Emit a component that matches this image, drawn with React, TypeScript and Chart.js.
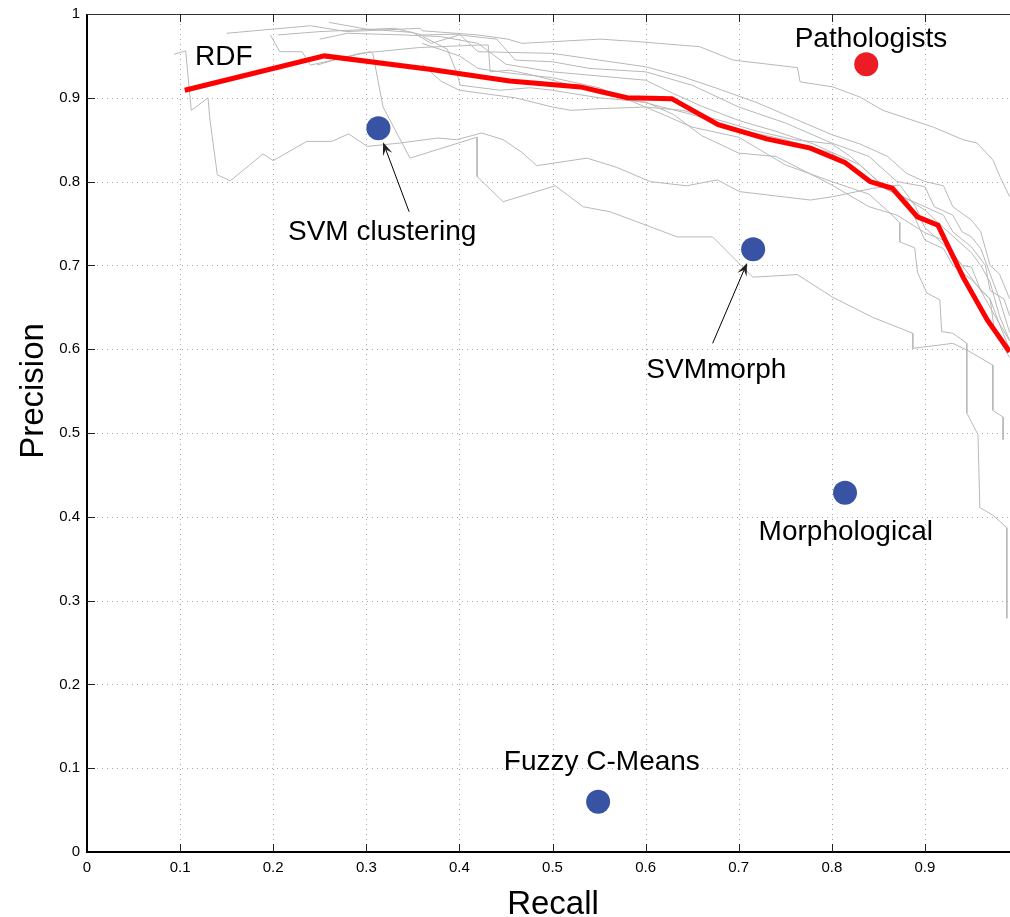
import React, { useEffect, useRef } from "react";
import { Chart, registerables } from "chart.js";

Chart.register(...registerables);

const FONT = '"Liberation Sans", Arial, Helvetica, sans-serif';

// ---------- axes ----------
const xTickValues = [0, 0.1, 0.2, 0.3, 0.4, 0.5, 0.6, 0.7, 0.8, 0.9];
const xTickLabels = ["0", "0.1", "0.2", "0.3", "0.4", "0.5", "0.6", "0.7", "0.8", "0.9"];
const yTickValues = [0, 0.1, 0.2, 0.3, 0.4, 0.5, 0.6, 0.7, 0.8, 0.9, 1];
const yTickLabels = ["0", "0.1", "0.2", "0.3", "0.4", "0.5", "0.6", "0.7", "0.8", "0.9", "1"];
const xAxisTitle = "Recall";
const yAxisTitle = "Precision";
const xMin = 0;
const xMax = 0.9914;
const yMin = 0;
const yMax = 1;

// ---------- RDF curve [recall, precision] ----------
const rdfCurve: [number, number][] = [
  [0.105, 0.909], [0.255, 0.95], [0.368, 0.934], [0.454, 0.92], [0.53, 0.913],
  [0.58, 0.9], [0.628, 0.899], [0.678, 0.868], [0.73, 0.851], [0.777, 0.84],
  [0.814, 0.823], [0.841, 0.8], [0.865, 0.792], [0.892, 0.758], [0.914, 0.748],
  [0.941, 0.686], [0.967, 0.635], [0.991, 0.597],
];

// ---------- individual (gray) curves ----------
const grayCurve1: [number, number][] = [
  [0.15, 0.977], [0.24, 0.986], [0.279, 0.979], [0.358, 0.983], [0.36, 0.98], [0.42, 0.975],
  [0.452, 0.97], [0.467, 0.965], [0.551, 0.97], [0.592, 0.967], [0.658, 0.961], [0.694, 0.945],
  [0.763, 0.936], [0.766, 0.919], [0.801, 0.913], [0.83, 0.901], [0.855, 0.885], [0.909, 0.865],
  [0.941, 0.85], [0.956, 0.846], [0.973, 0.826], [0.981, 0.805], [0.991, 0.782],
];
const grayCurve2: [number, number][] = [
  [0.0935, 0.952], [0.106, 0.956], [0.112, 0.885], [0.13, 0.9], [0.132, 0.874], [0.14, 0.808],
  [0.154, 0.801], [0.189, 0.833], [0.2, 0.825], [0.236, 0.848], [0.263, 0.848], [0.281, 0.857],
  [0.301, 0.842], [0.336, 0.846], [0.377, 0.852], [0.397, 0.85], [0.424, 0.858], [0.447, 0.85],
  [0.467, 0.835], [0.483, 0.819], [0.537, 0.828], [0.569, 0.817], [0.605, 0.8], [0.644, 0.795],
  [0.677, 0.802], [0.701, 0.788], [0.777, 0.778], [0.801, 0.782], [0.844, 0.792], [0.873, 0.796],
  [0.89, 0.77], [0.9, 0.745], [0.92, 0.725], [0.94, 0.7], [0.96, 0.67], [0.975, 0.64], [0.991, 0.61],
];
const grayCurve3: [number, number][] = [
  [0.197, 0.975], [0.207, 0.955], [0.231, 0.955], [0.24, 0.939], [0.304, 0.955], [0.307, 0.953],
  [0.318, 0.889], [0.347, 0.828], [0.419, 0.853], [0.419, 0.806], [0.447, 0.776], [0.503, 0.795],
  [0.533, 0.77], [0.562, 0.764], [0.634, 0.734], [0.672, 0.734], [0.715, 0.686], [0.763, 0.689],
  [0.801, 0.662], [0.844, 0.638], [0.887, 0.619], [0.887, 0.601], [0.93, 0.607], [0.945, 0.599],
  [0.973, 0.581], [0.973, 0.527], [0.984, 0.519], [0.984, 0.492],
];
const grayCurve4: [number, number][] = [
  [0.205, 0.975], [0.25, 0.979], [0.33, 0.983], [0.36, 0.975], [0.4, 0.976], [0.42, 0.955],
  [0.5, 0.953], [0.55, 0.945], [0.6, 0.937], [0.64, 0.925], [0.68, 0.91], [0.72, 0.894],
  [0.76, 0.875], [0.8, 0.856], [0.83, 0.845], [0.86, 0.83], [0.88, 0.81], [0.9, 0.8],
  [0.92, 0.795], [0.93, 0.77], [0.95, 0.754], [0.96, 0.74], [0.97, 0.7], [0.98, 0.69], [0.991, 0.66],
];
const grayCurve5: [number, number][] = [
  [0.26, 0.99], [0.3, 0.982], [0.35, 0.978], [0.37, 0.965], [0.4, 0.975], [0.44, 0.97],
  [0.46, 0.945], [0.5, 0.943], [0.54, 0.935], [0.6, 0.931], [0.65, 0.915], [0.7, 0.889],
  [0.75, 0.87], [0.8, 0.846], [0.84, 0.83], [0.87, 0.8], [0.9, 0.794], [0.91, 0.77],
  [0.93, 0.76], [0.94, 0.74], [0.95, 0.734], [0.96, 0.72], [0.97, 0.69], [0.98, 0.66], [0.991, 0.62],
];
const grayCurve6: [number, number][] = [
  [0.25, 0.97], [0.28, 0.977], [0.34, 0.975], [0.38, 0.973], [0.42, 0.965], [0.45, 0.94],
  [0.5, 0.931], [0.56, 0.925], [0.6, 0.921], [0.63, 0.905], [0.66, 0.89], [0.7, 0.873],
  [0.74, 0.86], [0.78, 0.845], [0.8, 0.835], [0.83, 0.82], [0.86, 0.79], [0.9, 0.77],
  [0.92, 0.76], [0.93, 0.74], [0.95, 0.722], [0.965, 0.7], [0.97, 0.67], [0.985, 0.66], [0.991, 0.64],
];
const grayCurve7: [number, number][] = [
  [0.247, 0.939], [0.268, 0.946], [0.293, 0.953], [0.357, 0.96], [0.422, 0.963], [0.431, 0.963],
  [0.433, 0.931], [0.454, 0.933], [0.479, 0.927], [0.5, 0.921], [0.55, 0.905], [0.6, 0.894],
  [0.65, 0.88], [0.7, 0.862], [0.75, 0.85], [0.8, 0.834], [0.83, 0.81], [0.86, 0.79],
  [0.88, 0.78], [0.9, 0.766], [0.92, 0.745], [0.95, 0.715], [0.96, 0.7], [0.97, 0.68],
  [0.98, 0.64], [0.991, 0.61],
];
const grayCurve8: [number, number][] = [
  [0.36, 0.965], [0.4, 0.95], [0.42, 0.935], [0.45, 0.93], [0.5, 0.924], [0.55, 0.912],
  [0.6, 0.889], [0.65, 0.865], [0.7, 0.853], [0.75, 0.82], [0.8, 0.8], [0.84, 0.785],
  [0.86, 0.765], [0.873, 0.751], [0.873, 0.728], [0.889, 0.721], [0.892, 0.692], [0.902, 0.667],
  [0.916, 0.659], [0.918, 0.621], [0.93, 0.619], [0.945, 0.607], [0.945, 0.524], [0.957, 0.498],
  [0.959, 0.411], [0.973, 0.402], [0.988, 0.387], [0.988, 0.279],
];
const grayCurve9: [number, number][] = [
  [0.361, 0.973], [0.387, 0.958], [0.397, 0.93], [0.401, 0.915], [0.444, 0.909], [0.476, 0.912],
  [0.5, 0.909], [0.55, 0.9], [0.6, 0.895], [0.63, 0.88], [0.66, 0.855], [0.7, 0.834],
  [0.74, 0.83], [0.8, 0.796], [0.84, 0.77], [0.87, 0.76], [0.9, 0.739], [0.92, 0.73],
  [0.94, 0.7], [0.95, 0.698], [0.96, 0.67], [0.97, 0.66], [0.975, 0.62], [0.991, 0.59],
];
const grayCurve10: [number, number][] = [
  [0.36, 0.94], [0.38, 0.92], [0.4, 0.909], [0.46, 0.9], [0.5, 0.889], [0.52, 0.885],
  [0.55, 0.887], [0.6, 0.889], [0.64, 0.885], [0.68, 0.873], [0.72, 0.86], [0.76, 0.85],
  [0.8, 0.845], [0.82, 0.83], [0.85, 0.8], [0.88, 0.78], [0.9, 0.73], [0.92, 0.72],
  [0.93, 0.7], [0.95, 0.683], [0.97, 0.66], [0.98, 0.63], [0.991, 0.6],
];
const grayCurves = [
  grayCurve1, grayCurve2, grayCurve3, grayCurve4, grayCurve5,
  grayCurve6, grayCurve7, grayCurve8, grayCurve9, grayCurve10,
];

// ---------- other methods (single points) ----------
const methodNames = ["Pathologists", "SVM clustering", "SVMmorph", "Morphological", "Fuzzy C-Means"];
const methodRecall = [0.837, 0.313, 0.7155, 0.8142, 0.549];
const methodPrecision = [0.94, 0.8636, 0.7192, 0.4288, 0.06];
const methodColors = ["#ec1c24", "#3953a4", "#3953a4", "#3953a4", "#3953a4"];

// ---------- annotation layout (data coordinates) ----------
const rdfLabel = { text: "RDF", x: 0.147, y: 0.939 };
const methodLabelPos: [number, number][] = [
  [0.842, 0.961], [0.317, 0.73], [0.676, 0.566], [0.815, 0.372], [0.553, 0.098],
];
const arrows: { from: [number, number]; to: [number, number] }[] = [
  { from: [0.346, 0.764], to: [0.318, 0.847] },
  { from: [0.672, 0.607], to: [0.709, 0.703] },
];

const toPoints = (c: [number, number][]) => c.map(([x, y]) => ({ x, y }));

function drawArrow(ctx: CanvasRenderingContext2D, x1: number, y1: number, x2: number, y2: number) {
  const a = Math.atan2(y2 - y1, x2 - x1);
  const L = 13;
  const W = 5;
  const cx = Math.cos(a), sy = Math.sin(a);
  const nx = x2 - L * 0.6 * cx, ny = y2 - L * 0.6 * sy;
  ctx.save();
  ctx.strokeStyle = "#000";
  ctx.lineWidth = 1;
  ctx.beginPath();
  ctx.moveTo(x1, y1);
  ctx.lineTo(nx, ny);
  ctx.stroke();
  ctx.fillStyle = "#222";
  ctx.beginPath();
  ctx.moveTo(x2, y2);
  ctx.lineTo(x2 - L * cx - W * sy, y2 - L * sy + W * cx);
  ctx.lineTo(nx, ny);
  ctx.lineTo(x2 - L * cx + W * sy, y2 - L * sy - W * cx);
  ctx.closePath();
  ctx.fill();
  ctx.restore();
}

const overlayPlugin = {
  id: "overlay",
  beforeDatasetsDraw(chart: any) {
    const { ctx, chartArea: ca, scales } = chart;
    const xs = scales.x, ys = scales.y;
    ctx.save();
    ctx.strokeStyle = "#a8a8a8";
    ctx.lineWidth = 1;
    ctx.setLineDash([1, 4]);
    xTickValues.forEach((v) => {
      if (v === 0) return;
      const px = Math.round(xs.getPixelForValue(v)) + 0.5;
      ctx.beginPath();
      ctx.moveTo(px, ca.top);
      ctx.lineTo(px, ca.bottom);
      ctx.stroke();
    });
    yTickValues.forEach((v) => {
      if (v === 0 || v === 1) return;
      const py = Math.round(ys.getPixelForValue(v)) + 0.5;
      ctx.beginPath();
      ctx.moveTo(ca.left, py);
      ctx.lineTo(ca.right, py);
      ctx.stroke();
    });
    ctx.restore();
  },
  afterDatasetsDraw(chart: any) {
    const { ctx, chartArea: ca, scales } = chart;
    const xs = scales.x, ys = scales.y;
    ctx.save();
    // frame
    ctx.strokeStyle = "#000";
    ctx.lineWidth = 2;
    ctx.beginPath();
    ctx.moveTo(ca.left, ca.top);
    ctx.lineTo(ca.left, ca.bottom);
    ctx.lineTo(ca.right, ca.bottom);
    ctx.stroke();
    ctx.strokeStyle = "#333";
    ctx.lineWidth = 1;
    ctx.beginPath();
    ctx.moveTo(ca.left, ca.top + 0.5);
    ctx.lineTo(ca.right, ca.top + 0.5);
    ctx.stroke();
    // inward ticks
    ctx.strokeStyle = "#222";
    ctx.lineWidth = 1;
    xTickValues.forEach((v) => {
      if (v === 0) return;
      const px = Math.round(xs.getPixelForValue(v)) + 0.5;
      ctx.beginPath();
      ctx.moveTo(px, ca.top);
      ctx.lineTo(px, ca.top + 8);
      ctx.moveTo(px, ca.bottom);
      ctx.lineTo(px, ca.bottom - 8);
      ctx.stroke();
    });
    yTickValues.forEach((v) => {
      if (v === 0 || v === 1) return;
      const py = Math.round(ys.getPixelForValue(v)) + 0.5;
      ctx.beginPath();
      ctx.moveTo(ca.left, py);
      ctx.lineTo(ca.left + 8, py);
      ctx.stroke();
    });
    // labels
    ctx.fillStyle = "#000";
    ctx.font = `28px ${FONT}`;
    ctx.textAlign = "center";
    ctx.textBaseline = "alphabetic";
    ctx.fillText(rdfLabel.text, xs.getPixelForValue(rdfLabel.x), ys.getPixelForValue(rdfLabel.y));
    methodNames.forEach((name, i) => {
      const [lx, ly] = methodLabelPos[i];
      ctx.fillText(name, xs.getPixelForValue(lx), ys.getPixelForValue(ly));
    });
    // arrows
    arrows.forEach((a) => {
      drawArrow(
        ctx,
        xs.getPixelForValue(a.from[0]), ys.getPixelForValue(a.from[1]),
        xs.getPixelForValue(a.to[0]), ys.getPixelForValue(a.to[1])
      );
    });
    // axis titles
    ctx.font = `33px ${FONT}`;
    ctx.textAlign = "center";
    ctx.textBaseline = "alphabetic";
    ctx.fillText(xAxisTitle, 553, 914);
    ctx.save();
    ctx.translate(43, 391);
    ctx.rotate(-Math.PI / 2);
    ctx.fillText(yAxisTitle, 0, 0);
    ctx.restore();
    ctx.restore();
  },
};

const zeroPadding = (s: any) => {
  s.paddingLeft = 0;
  s.paddingRight = 0;
  s.paddingTop = 0;
  s.paddingBottom = 0;
};

export default function App() {
  const canvasRef = useRef<HTMLCanvasElement | null>(null);

  useEffect(() => {
    if (!canvasRef.current) return;
    const datasets: any[] = [];
    grayCurves.forEach((c, i) => {
      datasets.push({
        label: `curve${i + 1}`,
        data: toPoints(c),
        showLine: true,
        borderColor: "#b8b8b8",
        borderWidth: 1,
        pointRadius: 0,
        pointHoverRadius: 0,
        order: 3,
      });
    });
    datasets.push({
      label: "RDF",
      data: toPoints(rdfCurve),
      showLine: true,
      borderColor: "#ff0000",
      borderWidth: 5,
      pointRadius: 0,
      pointHoverRadius: 0,
      order: 2,
    });
    methodNames.forEach((name, i) => {
      datasets.push({
        label: name,
        data: [{ x: methodRecall[i], y: methodPrecision[i] }],
        showLine: false,
        backgroundColor: methodColors[i],
        borderWidth: 0,
        pointRadius: 12,
        pointHoverRadius: 12,
        order: 1,
      });
    });

    const chart = new Chart(canvasRef.current, {
      type: "scatter",
      data: { datasets },
      options: {
        animation: false,
        responsive: false,
        devicePixelRatio: 1,
        layout: { autoPadding: false, padding: { top: 14, left: 0, right: 0, bottom: 0 } },
        plugins: { legend: { display: false }, tooltip: { enabled: false } },
        scales: {
          x: {
            type: "linear",
            position: "bottom",
            min: xMin,
            max: xMax,
            grid: { display: false, drawTicks: false },
            border: { display: false },
            afterBuildTicks: (s: any) => {
              s.ticks = xTickValues.map((v) => ({ value: v }));
            },
            afterFit: (s: any) => {
              s.height = 65;
              zeroPadding(s);
            },
            ticks: {
              autoSkip: false,
              maxRotation: 0,
              padding: 7,
              color: "#000",
              font: { family: FONT, size: 15 },
              callback: (_v: any, i: number) => xTickLabels[i],
            },
          },
          y: {
            type: "linear",
            position: "left",
            min: yMin,
            max: yMax,
            grid: { display: false, drawTicks: false },
            border: { display: false },
            afterBuildTicks: (s: any) => {
              s.ticks = yTickValues.map((v) => ({ value: v }));
            },
            afterFit: (s: any) => {
              s.width = 87;
              zeroPadding(s);
            },
            ticks: {
              autoSkip: false,
              padding: 7,
              color: "#000",
              font: { family: FONT, size: 15 },
              callback: (_v: any, i: number) => yTickLabels[i],
            },
          },
        },
      },
      plugins: [overlayPlugin],
    } as any);
    return () => chart.destroy();
  }, []);

  return (
    <div style={{ position: "fixed", left: 0, top: 0, width: 1010, height: 917, background: "#fff" }}>
      <canvas ref={canvasRef} width={1010} height={917} style={{ display: "block" }} />
    </div>
  );
}
